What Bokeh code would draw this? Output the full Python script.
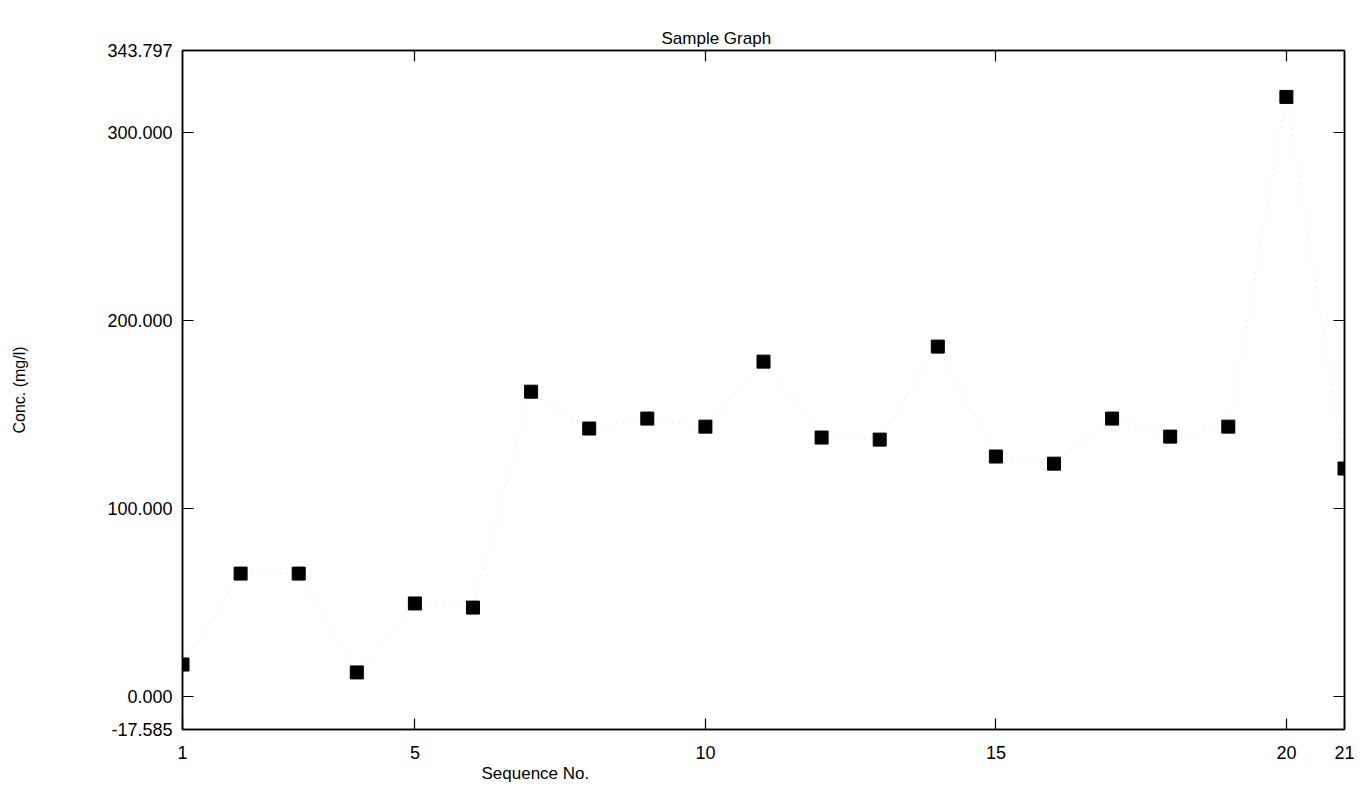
from bokeh.plotting import figure
from bokeh.models import (LinearAxis, FixedTicker, NumeralTickFormatter, Title,
                          ColumnDataSource)
from bokeh.embed import file_html
from bokeh.resources import INLINE

# ---- data ----
sequence_no = list(range(1, 22))
conc_mg_l = [17.0, 65.4, 65.4, 12.8, 49.5, 47.3, 162.2, 142.6, 147.9, 143.6,
             178.2, 137.8, 136.7, 186.2, 127.7, 123.9, 147.9, 138.3, 143.6,
             319.1, 121.3]
x_ticks = [1, 5, 10, 15, 20, 21]
y_ticks = [-17.585, 0, 100, 200, 300, 343.797]
inner_y_ticks = [0, 100, 200, 300]
inner_x_ticks = [5, 10, 15, 20]

FONT = "Liberation Sans"

src = ColumnDataSource(dict(x=sequence_no, y=conc_mg_l))

p = figure(width=1363, height=787, frame_width=1162, frame_height=679,
           x_range=(1, 21), y_range=(-17.585, 343.797),
           output_backend="svg", toolbar_location=None,
           x_axis_location=None, y_axis_location=None,
           min_border_left=182, min_border_right=19,
           min_border_top=50, min_border_bottom=58)
p.grid.visible = False
p.outline_line_color = "black"
p.outline_line_width = 1.5
p.background_fill_color = "white"
p.border_fill_color = "white"

def style_axis(ax, show_labels=True, ticks=None):
    ax.major_tick_in = 11
    ax.major_tick_out = 0
    ax.major_tick_line_color = "black"
    ax.major_tick_line_width = 1.2
    ax.minor_tick_line_color = None
    ax.axis_line_color = "black"
    ax.axis_line_width = 1.5
    ax.major_label_text_font = FONT
    ax.major_label_text_color = "black"
    ax.major_label_text_font_size = "18px"
    if not show_labels:
        ax.major_label_overrides = {t: "" for t in ticks}
        ax.major_label_standoff = 0

yl = LinearAxis(ticker=FixedTicker(ticks=y_ticks),
                formatter=NumeralTickFormatter(format="0.000"),
                axis_label="Conc. (mg/l)")
style_axis(yl)
yl.major_label_standoff = 10
yl.axis_label_text_font = FONT
yl.axis_label_text_font_size = "16px"
yl.axis_label_text_font_style = "normal"
yl.axis_label_text_color = "black"
yl.axis_label_standoff = 76
p.add_layout(yl, "left")

xb = LinearAxis(ticker=FixedTicker(ticks=x_ticks))
style_axis(xb)
xb.major_label_standoff = 16
p.add_layout(xb, "below")

xt = LinearAxis(ticker=FixedTicker(ticks=inner_x_ticks))
style_axis(xt, show_labels=False, ticks=inner_x_ticks)
p.add_layout(xt, "above")

yr = LinearAxis(ticker=FixedTicker(ticks=inner_y_ticks))
style_axis(yr, show_labels=False, ticks=inner_y_ticks)
p.add_layout(yr, "right")

# faint dotted connector (as seen in the scan)
p.line("x", "y", source=src, line_color="#9a9a9a", line_dash="1 6",
       line_width=1, line_alpha=0.35)
p.scatter("x", "y", source=src, marker="square", size=13,
          fill_color="black", line_color="black")

title = Title(text="Sample Graph", align="left", offset=479,
              text_font=FONT, text_font_size="17px",
              text_font_style="normal", text_color="black", standoff=6)
p.add_layout(title, "above")

xlabel = Title(text="Sequence No.", align="left", offset=299,
               text_font=FONT, text_font_size="17px",
               text_font_style="normal", text_color="black", standoff=0)
p.add_layout(xlabel, "below")

open("out.html", "w").write(file_html(p, INLINE))
